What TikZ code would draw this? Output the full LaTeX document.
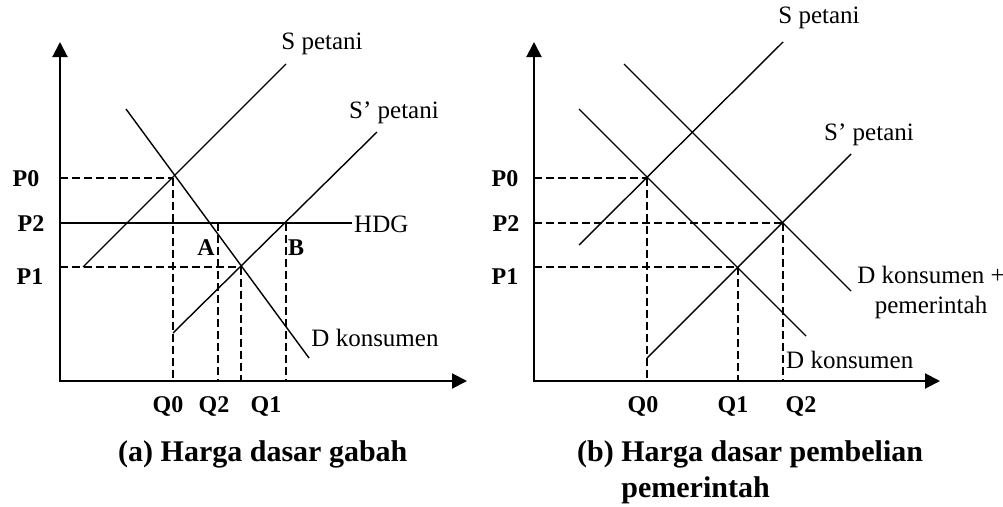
\documentclass[tikz,border=0pt]{standalone}
\usepackage{fontspec}
\setmainfont{Liberation Serif}
\usetikzlibrary{arrows.meta}
\begin{document}
\begin{tikzpicture}[x=1pt,y=-1pt,
  curve/.style={line width=1.4pt},
  axisline/.style={line width=2pt,-{Triangle[length=15pt,width=15pt]}},
  guide/.style={line width=1.4pt,dash pattern=on 7.5pt off 4.5pt},
  lbl/.style={inner sep=0pt,font=\fontsize{25}{30}\selectfont},
  blbl/.style={inner sep=0pt,font=\fontsize{24}{29}\selectfont\bfseries},
  captxt/.style={inner sep=0pt,font=\fontsize{30}{36}\selectfont\bfseries,align=left}]
\useasboundingbox (0,0) rectangle (1003,506);

% ---------- panel (a) ----------
\coordinate (aOy) at (60,382);
\coordinate (aOx) at (59,381);
\coordinate (aY) at (60,42);
\coordinate (aX) at (467,381);
\draw[axisline] (aOy) -- (aY);
\draw[axisline] (aOx) -- (aX);

\coordinate (aS1) at (83,267);   \coordinate (aS2) at (286,64);
\coordinate (aT1) at (173,333);  \coordinate (aT2) at (377,132);
\coordinate (aD1) at (126,109);  \coordinate (aD2) at (309,358);
\coordinate (aH1) at (60,223);   \coordinate (aH2) at (352,223);
\draw[curve] (aS1) -- (aS2);
\draw[curve] (aT1) -- (aT2);
\draw[curve] (aD1) -- (aD2);
\draw[curve] (aH1) -- (aH2);

\coordinate (aP0) at (60,178);  \coordinate (aE0) at (173,178);
\coordinate (aP1) at (60,267);  \coordinate (aE1) at (241,267);
\coordinate (aEA) at (218,223); \coordinate (aEB) at (286,223);
\coordinate (aQ0) at (173,381); \coordinate (aQ1) at (241,381);
\coordinate (aQ2) at (218,381); \coordinate (aQB) at (286,381);
\draw[guide] (aP0) -- (aE0);
\draw[guide] (aP1) -- (aE1);
\draw[guide] (aE0) -- (aQ0);
\draw[guide] (aE1) -- (aQ1);
\draw[guide] (aEA) -- (aQ2);
\draw[guide] (aEB) -- (aQB);

\node[blbl] (laP0) at (26,179) {P0};
\node[blbl] (laP2) at (31,224) {P2};
\node[blbl] (laP1) at (30,277) {P1};
\node[blbl] (laQ0) at (168,406) {Q0};
\node[blbl] (laQ2) at (214,406) {Q2};
\node[blbl] (laQ1) at (266,406) {Q1};
\node[blbl] (laA) at (206,248) {A};
\node[blbl] (laB) at (296,248) {B};
\node[lbl] (laS) at (322,44) {S petani};
\node[lbl] (laT) at (394,113) {S’ petani};
\node[lbl,anchor=west] (laH) at (354,224) {HDG};
\node[lbl] (laD) at (375,338) {D konsumen};
\node[captxt,anchor=base west] (capa) at (118,461) {(a) Harga dasar gabah};

% ---------- panel (b) ----------
\coordinate (bOy) at (534,382);
\coordinate (bOx) at (533,381);
\coordinate (bY) at (534,42);
\coordinate (bX) at (940,381);
\draw[axisline] (bOy) -- (bY);
\draw[axisline] (bOx) -- (bX);

\coordinate (bS1) at (579,245);  \coordinate (bS2) at (783,42);
\coordinate (bT1) at (647,358);  \coordinate (bT2) at (851,154);
\coordinate (bD1) at (579,109);  \coordinate (bD2) at (806,336);
\coordinate (bG1) at (624,64);   \coordinate (bG2) at (851,291);
\draw[curve] (bS1) -- (bS2);
\draw[curve] (bT1) -- (bT2);
\draw[curve] (bD1) -- (bD2);
\draw[curve] (bG1) -- (bG2);

\coordinate (bP0) at (534,178); \coordinate (bE0) at (647,178);
\coordinate (bP2) at (534,223); \coordinate (bE2) at (783,223);
\coordinate (bP1) at (534,267); \coordinate (bE1) at (738,267);
\coordinate (bQ0) at (647,381); \coordinate (bQ1) at (738,381);
\coordinate (bQ2) at (783,381);
\draw[guide] (bP0) -- (bE0);
\draw[guide] (bP2) -- (bE2);
\draw[guide] (bP1) -- (bE1);
\draw[guide] (bE0) -- (bQ0);
\draw[guide] (bE1) -- (bQ1);
\draw[guide] (bE2) -- (bQ2);

\node[blbl] (lbP0) at (505,179) {P0};
\node[blbl] (lbP2) at (506,224) {P2};
\node[blbl] (lbP1) at (505,277) {P1};
\node[blbl] (lbQ0) at (643,406) {Q0};
\node[blbl] (lbQ1) at (733,406) {Q1};
\node[blbl] (lbQ2) at (801,406) {Q2};
\node[lbl] (lbS) at (819,18) {S petani};
\node[lbl] (lbT) at (869,135) {S’ petani};
\node[lbl,align=center] (lbG) at (931,292) {D konsumen +\\pemerintah};
\node[lbl,anchor=west] (lbD) at (786,360) {D konsumen};
\node[captxt,anchor=base west] (capb) at (577,497) {(b) Harga dasar pembelian\\\phantom{(b) }pemerintah};
\end{tikzpicture}
\end{document}
